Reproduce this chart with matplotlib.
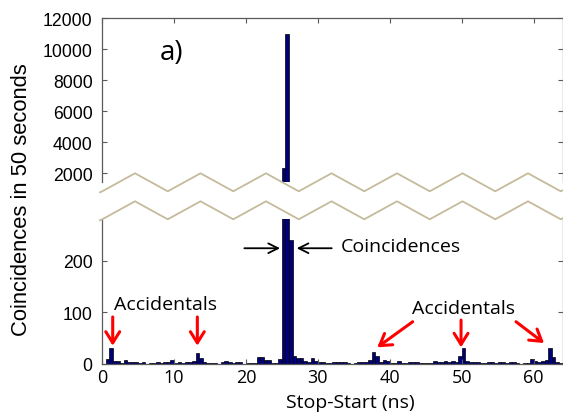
import numpy as np
import matplotlib.pyplot as plt
from matplotlib.lines import Line2D

# histogram of stop-start delays, 0.5 ns bins from 0 to 64 ns
bin_width = 0.5
counts = [
    0, 10, 30, 6, 5, 2, 8, 3, 4, 3,
    1, 3, 0, 2, 2, 3, 2, 3, 3, 8,
    2, 3, 1, 3, 4, 5, 22, 11, 4, 1,
    2, 2, 0, 3, 5, 3, 2, 4, 3, 0,
    1, 2, 2, 13, 13, 8, 8, 2, 2, 10,
    2350, 11000, 240, 15, 11, 11, 6, 3, 11, 5,
    4, 3, 2, 1, 3, 4, 4, 4, 1, 0,
    1, 4, 4, 3, 8, 24, 16, 4, 8, 5,
    2, 1, 5, 1, 2, 3, 4, 3, 2, 1,
    2, 1, 5, 3, 4, 5, 4, 6, 4, 16,
    30, 5, 4, 4, 3, 2, 1, 3, 3, 1,
    3, 3, 2, 3, 3, 1, 0, 2, 1, 10,
    5, 4, 5, 8, 30, 14, 4, 2,
]
bin_centers = np.arange(len(counts)) * bin_width + bin_width / 2

x_ticks = [0, 10, 20, 30, 40, 50, 60]
top_yticks = [2000, 4000, 6000, 8000, 10000, 12000]
bottom_yticks = [0, 100, 200]

W, H = 563, 414
bar_color = "#00007f"
spine_color = "#5a5a5a"
break_color = "#c4bb9c"
label_font = ["Open Sans", "DejaVu Sans"]
arial = ["Liberation Sans", "DejaVu Sans"]

fig = plt.figure(figsize=(W / 100, H / 100), dpi=100)

def px_box(left, top, right, bottom):
    return [left / W, 1 - bottom / H, (right - left) / W, (bottom - top) / H]

ax_top = fig.add_axes(px_box(102, 19.3, 562.5, 183.3))
ax_bot = fig.add_axes(px_box(102, 220, 562.5, 365))

for ax in (ax_top, ax_bot):
    ax.bar(bin_centers, counts, width=bin_width, color=bar_color,
           edgecolor="black", linewidth=0.5)
    ax.set_xlim(0, 64)
    ax.set_xticks(x_ticks)
    for s in ax.spines.values():
        s.set_color(spine_color)
        s.set_linewidth(0.9)
    ax.tick_params(direction="in", length=3.5, color=spine_color, right=True,
                   pad=6.8)

# upper panel: large counts
ax_top.set_ylim(1420, 12000)
ax_top.set_yticks(top_yticks)
ax_top.set_yticklabels([str(v) for v in top_yticks], family=arial, fontsize=12.7)
ax_top.spines["bottom"].set_visible(False)
ax_top.tick_params(axis="x", top=True, bottom=False, labelbottom=False)
ax_top.text(8.0, 9830, "a)", fontsize=20, family=label_font, va="center")

# lower panel: small counts
ax_bot.set_ylim(0, 280.6)
ax_bot.set_yticks(bottom_yticks)
ax_bot.set_yticklabels([str(v) for v in bottom_yticks], family=arial, fontsize=12.7)
ax_bot.spines["top"].set_visible(False)
ax_bot.tick_params(axis="x", top=False, pad=3)
ax_bot.set_xticklabels([str(v) for v in x_ticks], family=label_font, fontsize=13)

fig.text(350 / W, 1 - 403 / H, "Stop-Start (ns)", ha="center", va="center",
         fontsize=14, family=label_font)
fig.text(21.7 / W, 1 - 200 / H, "Coincidences in 50 seconds", rotation=90,
         ha="center", va="center", fontsize=15.8, family=arial)

# coincidence arrows
black_arrow = dict(arrowstyle="->,head_length=0.5,head_width=0.25", color="black",
                   lw=1.3, mutation_scale=14, shrinkA=0, shrinkB=0)
ax_bot.annotate("", xy=(24.74, 224), xytext=(19.78, 224), arrowprops=black_arrow)
ax_bot.annotate("", xy=(27.06, 224), xytext=(31.93, 224), arrowprops=black_arrow)
ax_bot.text(33.2, 228.8, "Coincidences", fontsize=14, family=label_font, va="center")

# accidental arrows
ax_bot.text(8.76, 116, "Accidentals", fontsize=14, family=label_font,
            ha="center", va="center")
ax_bot.text(50.3, 108.3, "Accidentals", fontsize=14, family=label_font,
            ha="center", va="center")
red_arrows = [
    ((1.49, 91), (1.49, 35.4)),
    ((13.25, 91), (13.25, 35.4)),
    ((43.18, 81.8), (38.26, 32.3)),
    ((49.9, 85), (49.9, 32.3)),
    ((57.54, 81.8), (61.43, 40.6)),
]
red_style = dict(arrowstyle="->,head_length=0.4,head_width=0.25", color="red",
                 lw=2.2, mutation_scale=20, shrinkA=0, shrinkB=0)
for tail, head in red_arrows:
    ax_bot.annotate("", xy=head, xytext=tail, arrowprops=red_style)

# zigzag break marks between the panels (pixel geometry)
period = 65.5
xs = []
ys_up = []
k = 0
while True:
    xt = 102.25 + period * k
    xp = 135 + period * k
    xs += [xt, xp]
    ys_up += [192.3, 174.3]
    if xp > W:
        break
    k += 1
xs = [100] + xs
ys_up = [193.3] + ys_up
ys_low = [y + 28 for y in ys_up]
for ys in (ys_up, ys_low):
    fig.add_artist(Line2D([x / W for x in xs], [1 - y / H for y in ys],
                          transform=fig.transFigure, color=break_color, lw=1.3))

fig.savefig("out.png", dpi=100)
